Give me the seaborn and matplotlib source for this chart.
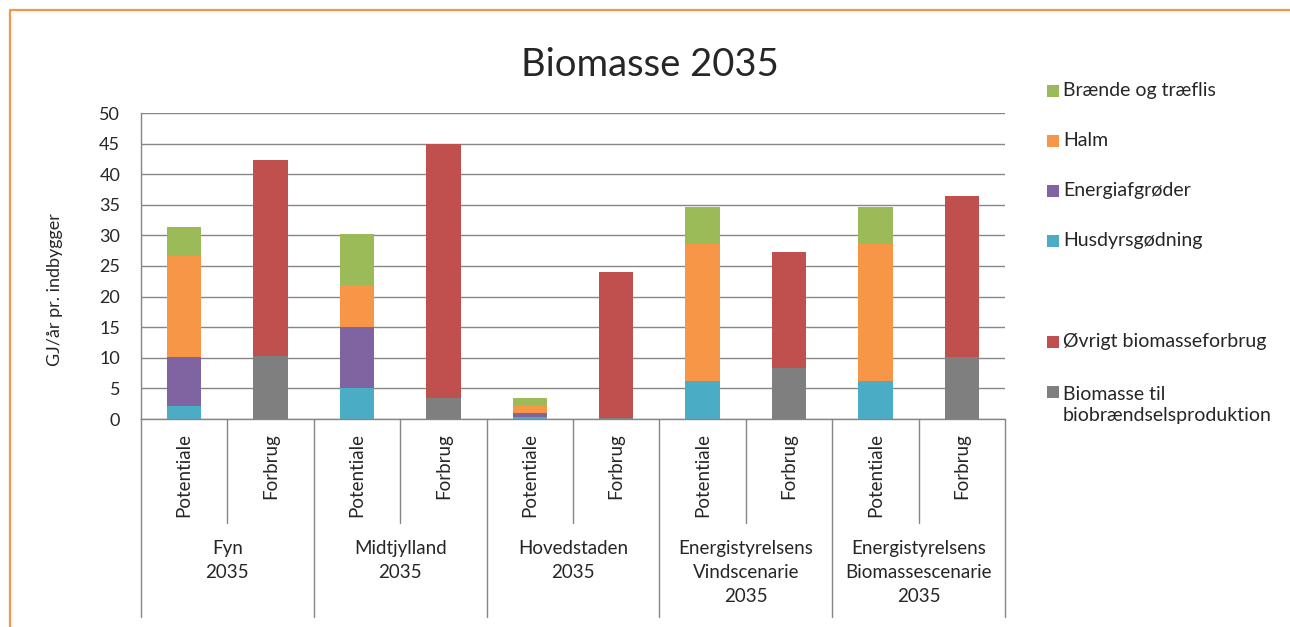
import numpy as np
import pandas as pd
import matplotlib
matplotlib.use('Agg')
import matplotlib.pyplot as plt
import matplotlib.transforms as mtrans
from matplotlib.lines import Line2D
from matplotlib.patches import Rectangle
import seaborn as sns

# data (GJ/år pr. indbygger)
groups = ['Fyn\n2035', 'Midtjylland\n2035', 'Hovedstaden\n2035',
          'Energistyrelsens\nVindscenarie\n2035',
          'Energistyrelsens\nBiomassescenarie\n2035']
kinds = ['Potentiale', 'Forbrug']

husdyr = [2.2, 5.0, 0.3, 6.25, 6.25]
energi = [8.0, 10.05, 0.75, 0.0, 0.0]
halm = [16.4, 6.8, 1.3, 22.4, 22.4]
braende = [4.7, 8.3, 1.0, 6.0, 6.0]
biobraendsel = [10.3, 3.4, 0.1, 8.3, 10.1]
oevrigt = [32.0, 41.6, 24.0, 19.0, 26.4]

series = ['Husdyrsgødning', 'Energiafgrøder', 'Halm', 'Brænde og træflis',
          'Biomasse til\nbiobrændselsproduktion', 'Øvrigt biomasseforbrug']
colors = {'Husdyrsgødning': '#4BACC6', 'Energiafgrøder': '#8064A2',
          'Halm': '#F79646', 'Brænde og træflis': '#9BBB59',
          'Biomasse til\nbiobrændselsproduktion': '#7F7F7F',
          'Øvrigt biomasseforbrug': '#C0504D'}

rows = []
for i, g in enumerate(groups):
    rows.append([f'{i}P', husdyr[i], energi[i], halm[i], braende[i], 0, 0])
    rows.append([f'{i}F', 0, 0, 0, 0, biobraendsel[i], oevrigt[i]])
df = pd.DataFrame(rows, columns=['slot'] + series)
order = list(df['slot'])
cum = df[series].cumsum(axis=1)
cum['slot'] = df['slot']

sns.set_style('white')
plt.rcParams['font.family'] = ['Lato', 'DejaVu Sans']

W, H = 1290, 627
fig = plt.figure(figsize=(W / 100, H / 100), dpi=100)
ax = fig.add_axes([141 / W, 208 / H, 864 / W, 306 / H])

# stacked bars: draw cumulative totals from the top layer down
for s in reversed(series):
    sns.barplot(data=cum, x='slot', y=s, order=order, color=colors[s],
                saturation=1, width=0.4, linewidth=0, errorbar=None, ax=ax)

grey = '#868686'
ax.set_ylim(0, 50)
ax.set_yticks(range(0, 51, 5))
ax.yaxis.grid(True, color=grey, lw=1.0)
ax.set_axisbelow(True)
for sp in ['top', 'right']:
    ax.spines[sp].set_visible(False)
for sp in ['left', 'bottom']:
    ax.spines[sp].set_color(grey)
    ax.spines[sp].set_linewidth(1.0)
ax.tick_params(axis='y', length=5, width=1, color=grey, labelsize=13, pad=10)
ax.tick_params(axis='x', length=0)
ax.set_xticklabels([])
ax.set_xlabel('')
ax.set_ylabel('')
ax.set_xlim(-0.5, len(order) - 0.5)

# category axis: divider lines and labels
tr = mtrans.blended_transform_factory(ax.transData, ax.transAxes)
for k, b in enumerate(np.arange(-0.5, len(order), 1.0)):
    y_end = -0.647 if k % 2 == 0 else -0.340
    ax.plot([b, b], [0, y_end], transform=tr, clip_on=False, color=grey, lw=1.0)
for j, slot in enumerate(order):
    ax.text(j, -0.046, kinds[j % 2], rotation=90, ha='center', va='top',
            fontsize=13.5, transform=tr)
for i, g in enumerate(groups):
    ax.text(2 * i + 0.5, -0.396, g, ha='center', va='top', fontsize=13.5,
            linespacing=1.5, transform=tr)

fig.text(650 / W, 1 - 65 / H, 'Biomasse 2035', fontsize=27.5, ha='center', va='center')
fig.text(55 / W, 1 - 290 / H, 'GJ/år pr. indbygger', fontsize=13, rotation=90,
         ha='center', va='center')

# legend, laid out like the original (gap between the two stacks)
legend_items = [('Brænde og træflis', 90.7), ('Halm', 140.7),
                ('Energiafgrøder', 190.7), ('Husdyrsgødning', 240.7),
                ('Øvrigt biomasseforbrug', 341.7),
                ('Biomasse til\nbiobrændselsproduktion', 391.7)]
for name, yc in legend_items:
    fig.add_artist(Rectangle((1047 / W, 1 - (yc + 6) / H), 12 / W, 12 / H,
                             transform=fig.transFigure, color=colors[name], lw=0))
    n_lines = name.count('\n') + 1
    ty = yc + (n_lines - 1) * 13.2
    fig.text(1063 / W, 1 - ty / H, name, fontsize=14, ha='left', va='center',
             linespacing=1.3)

# orange frame (top and left edge)
fig.add_artist(Line2D([10 / W, 10 / W, 1], [0, 1 - 10 / H, 1 - 10 / H],
                      transform=fig.transFigure, color='#F79646', lw=1.6))

fig.savefig('out.png', dpi=100, facecolor='white')
